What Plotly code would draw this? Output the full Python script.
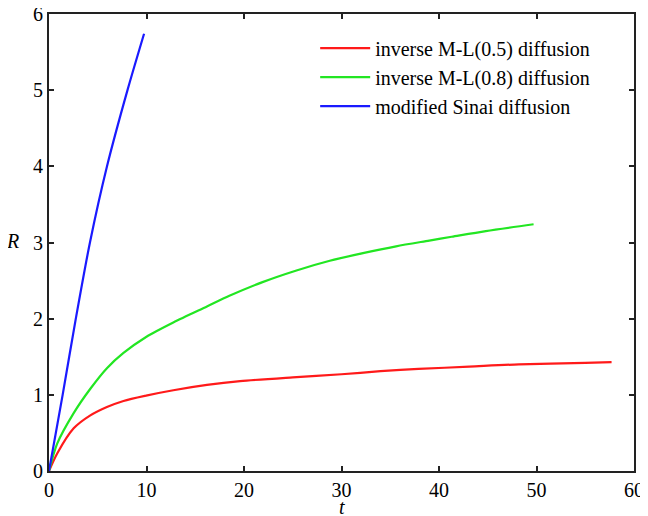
import plotly.graph_objects as go

# Data
t_red = [0, 0.84, 2.53, 4.24, 5.94, 7.64, 9.96, 12.75, 16.2, 19.6, 25, 30, 34, 37.9, 43.1, 48.2, 55, 57.7]
r_red = [0, 0.23, 0.56, 0.73, 0.84, 0.92, 0.99, 1.06, 1.13, 1.18, 1.23, 1.27, 1.31, 1.34, 1.37, 1.40, 1.42, 1.43]

t_green = [0, 0.84, 2.53, 4.24, 5.94, 7.64, 9.96, 12.75, 16.2, 18.5, 21.9, 25.3, 28.8, 32.2, 35.6, 39.0, 41.3, 44.8, 49.7]
r_green = [0, 0.36, 0.76, 1.08, 1.35, 1.55, 1.76, 1.95, 2.16, 2.30, 2.48, 2.63, 2.76, 2.86, 2.95, 3.025, 3.075, 3.15, 3.24]

t_blue = [0, 1.4, 2.75, 4.2, 5.95, 8.05, 9.75]
r_blue = [0, 1.0, 2.0, 3.0, 4.0, 5.0, 5.74]

names = ["inverse M-L(0.5) diffusion", "inverse M-L(0.8) diffusion", "modified Sinai diffusion"]
colors = ["#ff1a1a", "#22e622", "#1a1aff"]

x_ticks = [0, 10, 20, 30, 40, 50, 60]
y_ticks = [0, 1, 2, 3, 4, 5, 6]

FONT = "Liberation Serif, Times New Roman, serif"

fig = go.Figure()
for tx, ry, nm, c in zip([t_red, t_green, t_blue], [r_red, r_green, r_blue], names, colors):
    fig.add_trace(go.Scatter(x=tx, y=ry, mode="lines", name=nm,
                             line=dict(color=c, width=2.2, shape="spline", smoothing=0.8)))

axis_common = dict(
    showline=True, linecolor="#222222", linewidth=2, mirror="ticks",
    ticks="inside", ticklen=5, tickwidth=1.5, tickcolor="#222222",
    showgrid=False, zeroline=False, automargin=False,
    ticklabeloverflow="allow",
    tickfont=dict(family=FONT, size=20, color="black"),
)

fig.update_xaxes(range=[0, 60], tickvals=x_ticks, ticklabelstandoff=0, **axis_common)
fig.update_yaxes(range=[0, 6], tickvals=y_ticks, **axis_common)

fig.add_annotation(text="<i>R</i>", xref="paper", yref="paper", x=-0.062, y=0.503,
                   xanchor="center", yanchor="middle",
                   showarrow=False, font=dict(family=FONT, size=20, color="black"))
fig.add_annotation(text="<i>t</i>", xref="paper", yref="paper", x=0.5, y=-0.079,
                   xanchor="center", yanchor="middle",
                   showarrow=False, font=dict(family=FONT, size=20, color="black"))

# the page adds an 8px body margin, so the figure is 8px smaller than the window
fig.update_layout(
    width=640, height=508,
    margin=dict(l=41, r=14, t=6, b=45),
    plot_bgcolor="white", paper_bgcolor="white",
    font=dict(family=FONT, size=20, color="black"),
    legend=dict(x=0.455, y=0.968, xanchor="left", yanchor="top",
                bgcolor="rgba(0,0,0,0)", borderwidth=0,
                font=dict(family=FONT, size=20, color="black"),
                tracegroupgap=0, itemwidth=50),
    showlegend=True,
)

fig.write_html("out.html")
